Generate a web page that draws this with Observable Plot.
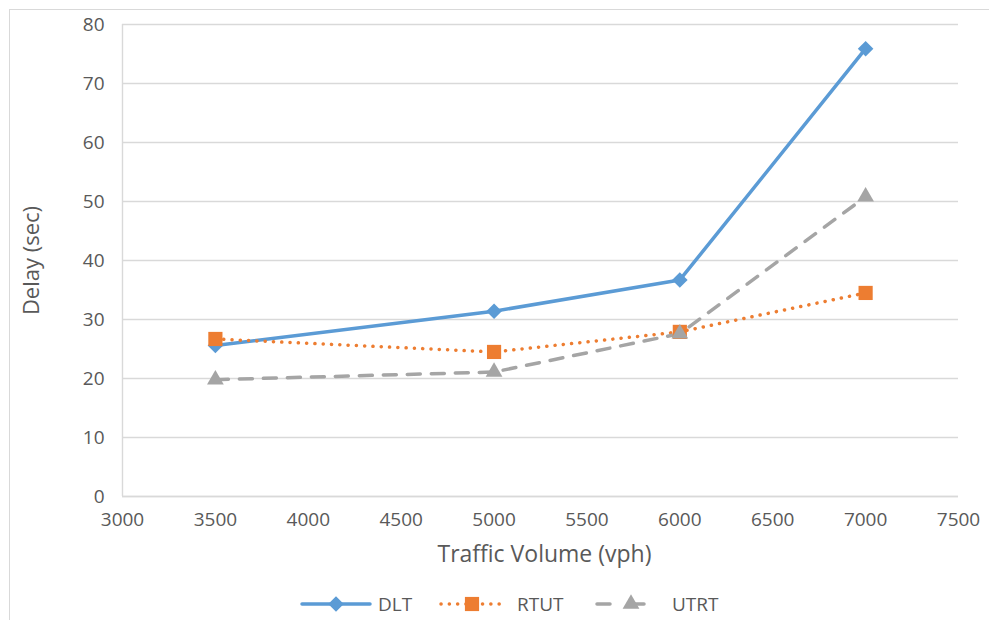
<!DOCTYPE html>
<html>
<head>
<meta charset="utf-8">
<script src="https://cdn.jsdelivr.net/npm/d3@7"></script>
<script src="https://cdn.jsdelivr.net/npm/@observablehq/plot@0.6"></script>
<style>
  html, body { margin: 0; padding: 0; background: #fff; }
  #wrap { position: relative; width: 989px; height: 620px; overflow: hidden; font-family: "Open Sans", Lato, sans-serif; }
  #border { position: absolute; left: 9px; top: 9px; width: 1100px; height: 800px; border: 1.5px solid #D9D9D9; box-sizing: border-box; }
  #chart { position: absolute; left: 0; top: 0; }
  #legend { position: absolute; left: 0; top: 590px; }
</style>
</head>
<body>
<div id="wrap">
  <div id="border"></div>
  <div id="chart"></div>
  <div id="legend"></div>
</div>
<script>
const volumes = [3500, 5000, 6000, 7000];
const dlt  = [25.6, 31.4, 36.7, 75.9];
const rtut = [26.7, 24.5, 27.9, 34.5];
const utrt = [19.8, 21.1, 27.6, 50.8];
const xTicks = [3000, 3500, 4000, 4500, 5000, 5500, 6000, 6500, 7000, 7500];
const yTicks = [0, 10, 20, 30, 40, 50, 60, 70, 80];
const seriesNames = ["DLT", "RTUT", "UTRT"];

const colors = {DLT: "#5B9BD5", RTUT: "#ED7D31", UTRT: "#A5A5A5"};
const symbols = {DLT: "diamond2", RTUT: "square", UTRT: "triangle2"};
const dashes = {DLT: null, RTUT: "0.1,8.2", UTRT: "13,11"};
const radii = {DLT: 7, RTUT: 8, UTRT: 8};

const seriesVals = {DLT: dlt, RTUT: rtut, UTRT: utrt};
const rows = seriesNames.flatMap(s => volumes.map((v, i) => ({series: s, x: v, y: seriesVals[s][i]})));

const textColor = "#595959";
const gridColor = "#D9D9D9";
const font = "'Open Sans', Lato, sans-serif";

const marks = [
  Plot.gridY(yTicks, {stroke: gridColor, strokeOpacity: 1, strokeWidth: 1.4}),
  Plot.ruleX([3000], {stroke: gridColor, strokeWidth: 1.4}),
  Plot.ruleY([0], {stroke: gridColor, strokeWidth: 1.4}),
  Plot.axisX(xTicks, {tickSize: 0, tickPadding: 16, fontSize: 19, fill: textColor, tickFormat: d => String(d), label: null}),
  Plot.axisY(yTicks, {tickSize: 0, tickPadding: 18, fontSize: 19, fill: textColor, label: null}),
  Plot.text(["Traffic Volume (vph)"], {frameAnchor: "bottom", lineAnchor: "top", dy: 49, dx: 4, fontSize: 23, fill: textColor}),
  Plot.text(["Delay (sec)"], {frameAnchor: "left", textAnchor: "middle", rotate: -90, dx: -91, fontSize: 22, fill: textColor}),
];
for (const s of seriesNames) {
  const data = rows.filter(d => d.series === s);
  marks.push(Plot.line(data, {x: "x", y: "y", stroke: colors[s], strokeWidth: 3.5,
    strokeDasharray: dashes[s], strokeLinecap: "round", strokeLinejoin: "round"}));
}
for (const s of seriesNames) {
  const data = rows.filter(d => d.series === s);
  marks.push(Plot.dot(data, {x: "x", y: "y", symbol: () => symbols[s], fill: colors[s], stroke: "none", r: radii[s]}));
}

const chart = Plot.plot({
  width: 989,
  height: 580,
  marginLeft: 122,
  marginRight: 31,
  marginTop: 24,
  marginBottom: 84,
  style: {fontFamily: font, background: "transparent", overflow: "visible"},
  x: {type: "linear", domain: [3000, 7500]},
  y: {domain: [0, 80]},
  symbol: {type: "identity"},
  marks
});
document.getElementById("chart").appendChild(chart);

// Legend
const lg = d3.select("#legend").append("svg").attr("width", 989).attr("height", 30)
  .style("font-family", font);
const legendItems = [
  {name: "DLT", x0: 302, x1: 370, tx: 378},
  {name: "RTUT", x0: 441, x1: 503, tx: 517},
  {name: "UTRT", x0: 597, x1: 665, tx: 672}
];
const cy = 14;
for (const it of legendItems) {
  const g = lg.append("g");
  g.append("line").attr("x1", it.x0).attr("x2", it.x1).attr("y1", cy).attr("y2", cy)
    .attr("stroke", colors[it.name]).attr("stroke-width", 3.5).attr("stroke-linecap", "round")
    .attr("stroke-dasharray", it.name === "UTRT" ? "13,21" : dashes[it.name]);
  const sym = {DLT: d3.symbolDiamond2, RTUT: d3.symbolSquare, UTRT: d3.symbolTriangle2}[it.name];
  g.append("path").attr("transform", `translate(${(it.x0 + it.x1) / 2},${cy})`)
    .attr("d", d3.symbol(sym, Math.PI * radii[it.name] ** 2)())
    .attr("fill", colors[it.name]);
  g.append("text").attr("x", it.tx).attr("y", cy).attr("dy", "0.35em")
    .attr("font-size", 19).attr("fill", textColor).text(it.name);
}
</script>
</body>
</html>
